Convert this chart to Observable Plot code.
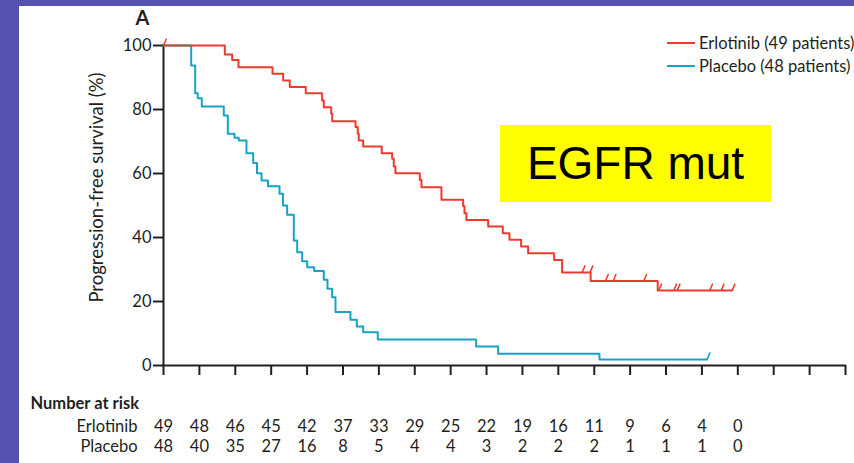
<!DOCTYPE html>
<html>
<head>
<meta charset="utf-8">
<script src="https://cdn.jsdelivr.net/npm/d3@7"></script>
<script src="https://cdn.jsdelivr.net/npm/@observablehq/plot@0.6"></script>
<style>
  html, body { margin: 0; padding: 0; }
  body { width: 854px; height: 463px; background: #5552b0; position: relative; overflow: hidden; font-family: Lato, sans-serif; color: #231f20; }
  #panel { position: absolute; left: 19px; top: 6px; width: 835px; height: 457px; background: #fff; }
  #chart { position: absolute; left: 0; top: 0; }
  .swatch { position: absolute; left: 667px; width: 28px; height: 2px; }
  .legend { position: absolute; left: 699px; font-size: 16.5px; line-height: 20px; white-space: nowrap; }
  #tag { position: absolute; left: 500px; top: 125px; width: 271px; height: 77px; background: #ffff00; font-family: "Liberation Sans", Arial, sans-serif; font-size: 46px; line-height: 77px; text-align: center; color: #000; }
</style>
</head>
<body>
<div id="panel"></div>
<div id="chart"></div>
<div id="tag">EGFR mut</div>
<div class="swatch" style="top:42px; background:#ee3a2e"></div>
<div class="legend" style="top:33px">Erlotinib (49 patients)</div>
<div class="swatch" style="top:65px; background:#17a2c6"></div>
<div class="legend" style="top:56px">Placebo (48 patients)</div>
<script>
// Time axis in weeks, ticks every 6 weeks
const timeTicks = d3.range(0, 115, 6);
const survivalTicks = [0, 20, 40, 60, 80, 100];

// Number at risk, every 6 weeks from 0 to 96
const riskWeeks = d3.range(0, 97, 6);
const erlotinibRisk = [49, 48, 46, 45, 42, 37, 33, 29, 25, 22, 19, 16, 11, 9, 6, 4, 0];
const placeboRisk = [48, 40, 35, 27, 16, 8, 5, 4, 4, 3, 2, 2, 2, 1, 1, 1, 0];

// Kaplan-Meier steps: Erlotinib
const erlotinibTime = [0, 10.25, 11.48, 12.53, 18.22, 20.0, 21.11, 23.78, 26.52, 26.79, 28.03, 28.2, 32.1, 32.47, 32.64, 33.38, 36.48, 38.22, 38.49, 38.77, 42.84, 43.12, 46.46, 50.09, 50.31, 50.64, 54.27, 56.71, 57.83, 59.78, 60.95, 65.3, 66.63, 71.4, 82.61, 95.05];
const erlotinibSurv = [100, 97.2, 95.5, 93.2, 91.2, 89.1, 87.0, 85.1, 82.8, 80.7, 78.7, 76.3, 74.5, 72.4, 70.3, 68.4, 66.3, 64.6, 62.2, 60.1, 58.0, 55.7, 51.8, 49.8, 47.6, 45.5, 43.4, 41.3, 39.3, 37.2, 35.1, 33.0, 29.1, 26.4, 23.4, 23.4];
const erlotinibCensorTime = [0, 69.98, 71.3, 73.87, 75.16, 80.27, 82.78, 85.29, 85.86, 91.3, 93.21, 95.05];
const erlotinibCensorSurv = [100, 29.1, 29.1, 26.4, 26.4, 26.4, 23.4, 23.4, 23.4, 23.4, 23.4, 23.4];

// Kaplan-Meier steps: Placebo
const placeboTime = [0, 4.63, 5.3, 5.73, 6.4, 10.08, 10.75, 11.87, 12.58, 13.87, 14.99, 15.63, 16.38, 17.47, 19.39, 19.97, 20.67, 21.78, 22.35, 23.18, 24.02, 25.19, 26.79, 27.41, 28.19, 28.75, 31.25, 32.31, 33.38, 35.82, 52.26, 55.94, 72.87, 90.87];
const placeboSurv = [100, 93.75, 85.1, 83.5, 80.9, 78.1, 72.4, 71.2, 70.3, 66.3, 63.3, 60.1, 57.8, 56.0, 53.7, 50.0, 47.1, 39.1, 35.4, 32.6, 30.7, 29.5, 26.8, 24.0, 21.3, 16.7, 14.3, 12.2, 10.4, 8.1, 5.9, 3.7, 1.9, 1.9];
const placeboCensorTime = [90.87];
const placeboCensorSurv = [1.9];

const red = "#ee3a2e", blue = "#17a2c6", ink = "#231f20";

const erlotinib = erlotinibTime.map((t, i) => ({t, s: erlotinibSurv[i]}));
const placebo = placeboTime.map((t, i) => ({t, s: placeboSurv[i]}));
const erlotinibCensor = erlotinibCensorTime.map((t, i) => ({t, s: erlotinibCensorSurv[i]}));
const placeboCensor = placeboCensorTime.map((t, i) => ({t, s: placeboCensorSurv[i]}));
const risk = riskWeeks.map((w, i) => ({w, e: erlotinibRisk[i], p: placeboRisk[i]}));

// Censoring mark: a short slanted stroke rising from the curve
const censorTick = {draw(context) { context.moveTo(0, 0); context.lineTo(3, -7); }};

const label = {fill: ink, lineAnchor: "middle"};

const chart = Plot.plot({
  width: 854,
  height: 463,
  marginLeft: 163,
  marginRight: 9,
  marginTop: 45,
  marginBottom: 98,
  style: {background: "transparent", fontFamily: "Lato, sans-serif", fontSize: "16.5px", color: ink},
  x: {domain: [0, 114], axis: null},
  y: {domain: [0, 100], axis: null},
  marks: [
    Plot.axisX({ticks: timeTicks, tickSize: 10, tickFormat: () => "", label: null, stroke: ink, strokeWidth: 2}),
    Plot.axisY({ticks: survivalTicks, tickSize: 10, tickPadding: 2, label: null, stroke: ink, fill: ink, strokeWidth: 2}),
    Plot.ruleX([0], {stroke: ink, strokeWidth: 2, strokeLinecap: "square"}),
    Plot.ruleY([0], {stroke: ink, strokeWidth: 2, strokeLinecap: "square"}),
    Plot.line(placebo, {x: "t", y: "s", curve: "step-after", stroke: blue, strokeWidth: 2}),
    Plot.line(erlotinib, {x: "t", y: "s", curve: "step-after", stroke: red, strokeWidth: 2}),
    Plot.dot(erlotinibCensor, {x: "t", y: "s", symbol: censorTick, stroke: red, strokeWidth: 1.5, fill: "none"}),
    Plot.dot(placeboCensor, {x: "t", y: "s", symbol: censorTick, stroke: blue, strokeWidth: 1.5, fill: "none"}),
    Plot.text(["Progression-free survival (%)"], {...label, text: d => d, frameAnchor: "left", textAnchor: "middle", rotate: -90, dx: -66, dy: -18, fontSize: 18.5}),
    Plot.text(["A"], {...label, text: d => d, frameAnchor: "top-left", textAnchor: "middle", dx: -21, dy: -27, fontWeight: "bold", fontSize: 20}),
    Plot.text(["Number at risk"], {...label, text: d => d, frameAnchor: "bottom-left", dx: -133, dy: 38, textAnchor: "start", fontWeight: "bold"}),
    Plot.text(["Erlotinib"], {...label, text: d => d, frameAnchor: "bottom-left", dx: -26, dy: 61, textAnchor: "end"}),
    Plot.text(["Placebo"], {...label, text: d => d, frameAnchor: "bottom-left", dx: -26, dy: 81, textAnchor: "end"}),
    Plot.text(risk, {...label, x: "w", text: "e", frameAnchor: "bottom", dy: 61}),
    Plot.text(risk, {...label, x: "w", text: "p", frameAnchor: "bottom", dy: 81})
  ]
});
document.getElementById("chart").appendChild(chart);
</script>
</body>
</html>
